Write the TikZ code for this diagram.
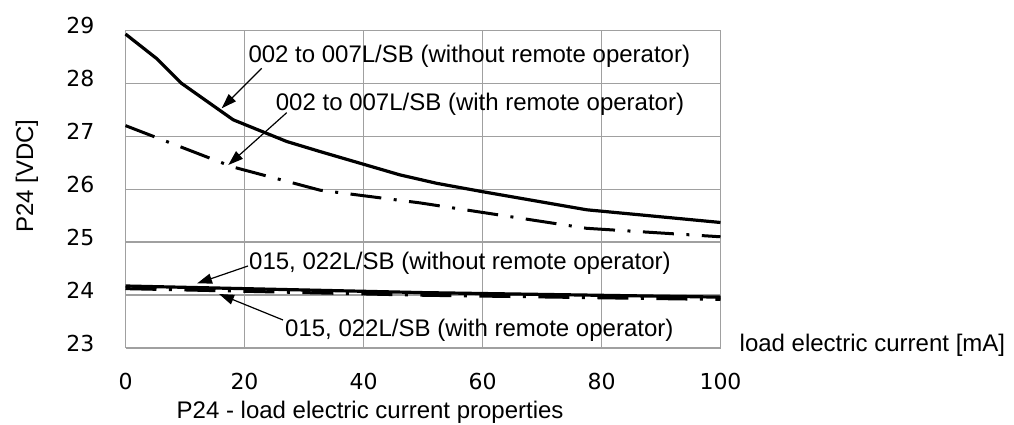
\documentclass[tikz,border=0pt]{standalone}
\usepackage{fontspec}
\setmainfont{Liberation Sans}
\newfontfamily\dvfont{DejaVu Sans}
\usetikzlibrary{arrows.meta,calc}
\begin{document}
\begin{tikzpicture}[x=1pt,y=1pt,
  gridline/.style={draw={rgb,255:red,160;green,160;blue,160}, line width=1.2pt},
  solidcurve/.style={line width=3.2pt, line join=round},
  dashcurve/.style={line width=3pt, line join=round, dash pattern=on 31pt off 12.5pt on 3pt off 12.5pt},
  lbl/.style={font=\fontsize{24}{28}\selectfont, inner sep=0pt, anchor=base west},
  ticklbl/.style={font=\dvfont\fontsize{22}{26}\selectfont, inner sep=0pt},
  pointer/.style={line width=1.2pt, -{Triangle[length=15pt,width=10pt]}}
]
\useasboundingbox (0,0) rectangle (1014,425);

\begin{scope}[shift={(125.5pt,-1140.32pt)}, x=5.95pt, y=52.93pt]
  % grid
  \foreach \u in {0,20,...,100} \draw[gridline] (\u,23) -- (\u,29);
  \foreach \v in {23,...,29} \draw[gridline] (0,\v) -- (100,\v);
  % tick labels
  \foreach \v in {23,...,29}
    \node[ticklbl, anchor=base east, xshift=-31pt, yshift=-3.5pt] (ty\v) at (0,\v) {\v};
  \foreach \u in {0,20,...,100}
    \node[ticklbl, anchor=base, yshift=-42pt] (tx\u) at (\u,23) {\u};
  % curves
  \draw[dashcurve] (0,27.2) -- (18,26.42) -- (32.7,25.98) -- (49.5,25.74) -- (77.5,25.26) -- (100,25.10);
  \draw[solidcurve] (0,28.93) -- (5.2,28.47) -- (9.4,28.0) -- (18.1,27.31) -- (27.1,26.9) -- (32.7,26.71) -- (46.1,26.27) -- (52.3,26.11) -- (60.1,25.95) -- (77.5,25.61) -- (100,25.37);
  \draw[dashcurve] (0,24.12) -- (50,23.995) -- (100,23.915);
  \draw[solidcurve] (0,24.17) -- (50,24.045) -- (100,23.96);
\end{scope}

% axis titles
\node[lbl, anchor=base, rotate=90] (ytitle) at (33,249) {P24 [VDC]};
\node[lbl] (xtitle) at (739.5,73.3) {load electric current [mA]};
\node[lbl] (caption) at (176.5,6) {P24 - load electric current properties};

% curve labels
\node[lbl] (l1) at (248.3,362) {002 to 007L/SB (without remote operator)};
\node[lbl] (l2) at (275.7,314) {002 to 007L/SB (with remote operator)};
\node[lbl] (l3) at (249,155) {015, 022L/SB (without remote operator)};
\node[lbl] (l4) at (285,88.5) {015, 022L/SB (with remote operator)};

% arrow ends
\coordinate (tip1) at (221.7,316.7);
\coordinate (tip2) at (228.3,260);
\coordinate (tip3) at (197,141.5);
\coordinate (tip4) at (219,131);
\coordinate (tail1) at ($(l1.base west)+(13.4,-5.3)$);
\coordinate (tail2) at ($(l2.base west)+(11,-1.7)$);
\coordinate (tail3) at ($(l3.base west)+(-1,4)$);
\coordinate (tail4) at ($(l4.base west)+(-2,16.5)$);

\draw[pointer] (tail1) -- (tip1);
\draw[pointer] (tail2) -- (tip2);
\draw[pointer] (tail3) -- (tip3);
\draw[pointer] (tail4) -- (tip4);
\end{tikzpicture}
\end{document}
